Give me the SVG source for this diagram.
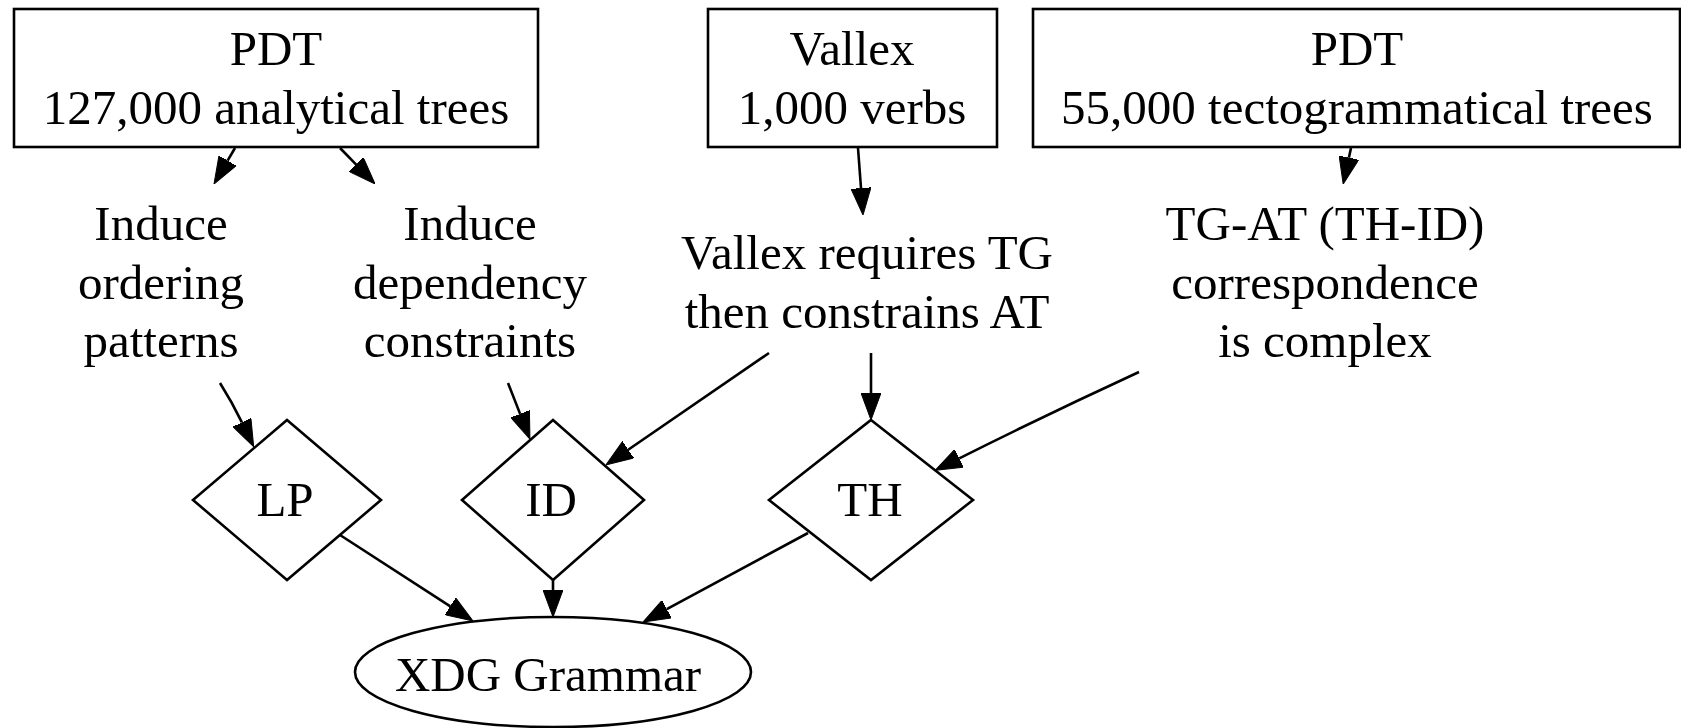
<svg xmlns="http://www.w3.org/2000/svg" width="1681" height="728" viewBox="0 0 1681 728">
<style>
.shape{fill:#fff;stroke:#000;stroke-width:2.6}
.t{font-family:"Liberation Serif","Times New Roman",serif;font-size:49px;fill:#000;text-anchor:middle}
.e{fill:none;stroke:#000;stroke-width:2.6}
</style>
<defs>
<marker id="ah" viewBox="0 0 27 20" markerWidth="27" markerHeight="20" refX="0" refY="10" orient="auto" markerUnits="userSpaceOnUse">
<path d="M0,0 L27,10 L0,20 Z" fill="#000" stroke="#000" stroke-width="1"/>
</marker>
</defs>
<rect width="1681" height="728" fill="#fff"/>
<g id="connectors">
<path class="e" marker-end="url(#ah)" d="M235,148 L227.6,160.7"/>
<path class="e" marker-end="url(#ah)" d="M340,148 L356.2,164.6"/>
<path class="e" marker-end="url(#ah)" d="M858,148 L861,188.1"/>
<path class="e" marker-end="url(#ah)" d="M1351,148 L1348.9,157.7"/>
<path class="e" marker-end="url(#ah)" d="M220,383 Q232,402 241.9,422.4"/>
<path class="e" marker-end="url(#ah)" d="M508,383 L520.1,413.9"/>
<path class="e" marker-end="url(#ah)" d="M769,353 L628.2,449.7"/>
<path class="e" marker-end="url(#ah)" d="M871,353 L871,393"/>
<path class="e" marker-end="url(#ah)" d="M1139,372 Q1050,413 959.3,458.3"/>
<path class="e" marker-end="url(#ah)" d="M340,535 L450.3,606.3"/>
<path class="e" marker-end="url(#ah)" d="M553,580 L553,590"/>
<path class="e" marker-end="url(#ah)" d="M808,533 Q740,570 666.8,609.2"/>
</g>
<g id="pdt_at">
<rect class="shape" x="14" y="9" width="524" height="138"/>
<text class="t" x="276" y="65">PDT</text>
<text class="t" x="276" y="124">127,000 analytical trees</text>
</g>
<g id="vallex">
<rect class="shape" x="708" y="9" width="289" height="138"/>
<text class="t" x="852" y="65">Vallex</text>
<text class="t" x="852" y="124">1,000 verbs</text>
</g>
<g id="pdt_tg">
<rect class="shape" x="1033" y="9" width="647" height="138"/>
<text class="t" x="1357" y="65">PDT</text>
<text class="t" x="1357" y="124">55,000 tectogrammatical trees</text>
</g>
<g id="induce_order">
<text class="t" x="161" y="240">Induce</text>
<text class="t" x="161" y="299">ordering</text>
<text class="t" x="161" y="357">patterns</text>
</g>
<g id="induce_dep">
<text class="t" x="470" y="240">Induce</text>
<text class="t" x="470" y="299">dependency</text>
<text class="t" x="470" y="357">constraints</text>
</g>
<g id="vallex_req">
<text class="t" x="867" y="269">Vallex requires TG</text>
<text class="t" x="867" y="328">then constrains AT</text>
</g>
<g id="tgat">
<text class="t" x="1325" y="240">TG-AT (TH-ID)</text>
<text class="t" x="1325" y="299">correspondence</text>
<text class="t" x="1325" y="357">is complex</text>
</g>
<g id="lp">
<polygon class="shape" points="287,420 381,500 287,580 193,500"/>
<text class="t" x="285" y="516">LP</text>
</g>
<g id="id">
<polygon class="shape" points="553,420 644,500 553,580 462,500"/>
<text class="t" x="551" y="516">ID</text>
</g>
<g id="th">
<polygon class="shape" points="871,420 973,500 871,580 769,500"/>
<text class="t" x="870" y="516">TH</text>
</g>
<g id="xdg">
<ellipse class="shape" cx="553" cy="672" rx="198" ry="55"/>
<text class="t" x="548" y="691">XDG Grammar</text>
</g>
</svg>
